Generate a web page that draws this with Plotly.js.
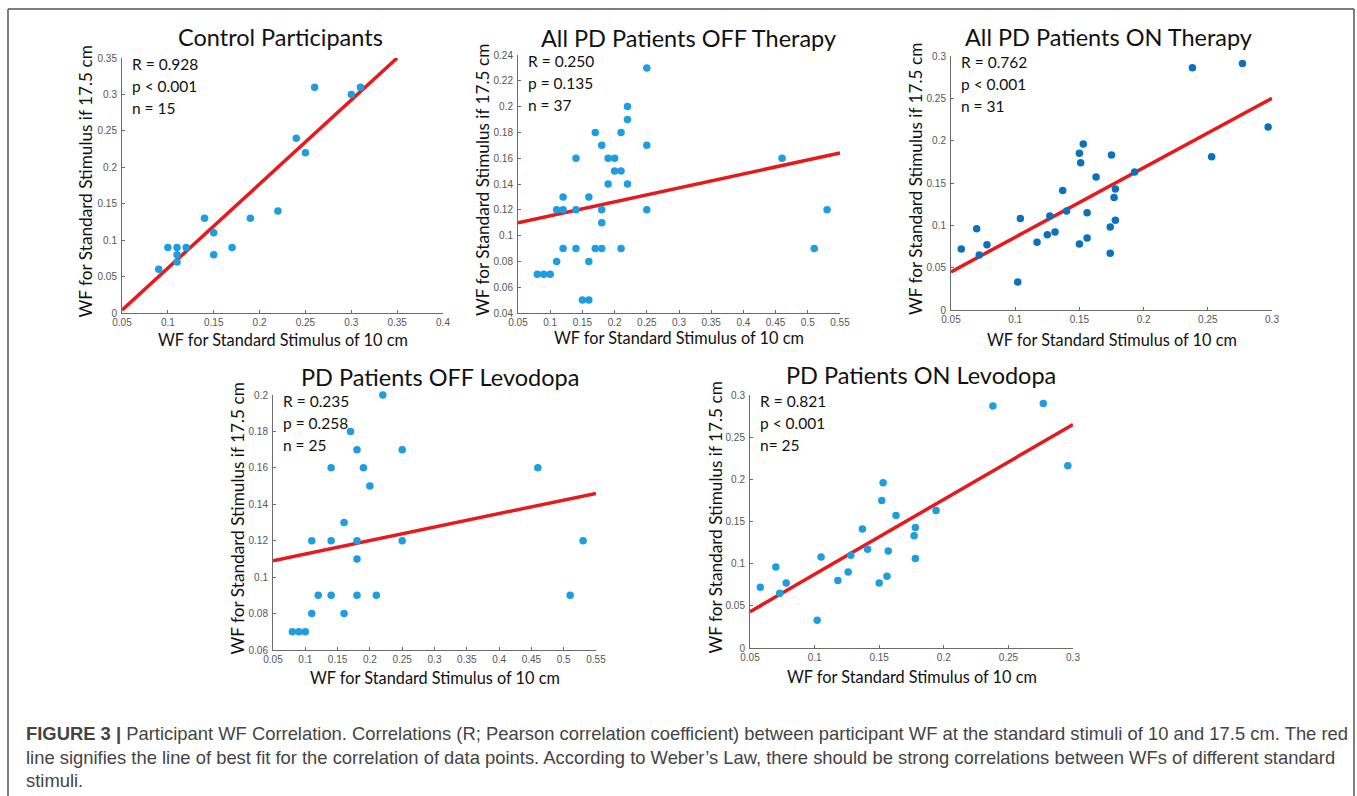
<!DOCTYPE html>
<html>
<head>
<meta charset="utf-8">
<script src="https://cdn.plot.ly/plotly-3.0.1.min.js"></script>
<style>
html,body{margin:0;padding:0;background:#fff;}
#chart{width:1357px;height:796px;}
</style>
</head>
<body>
<div id="chart"></div>
<script>
// ---------------- DATA ----------------
const panelTitles = ["Control Participants", "All PD Patients OFF Therapy", "All PD Patients ON Therapy", "PD Patients OFF Levodopa", "PD Patients ON Levodopa"];
const statTexts = [
  ["R = 0.928", "p < 0.001", "n = 15"],
  ["R = 0.250", "p = 0.135", "n = 37"],
  ["R = 0.762", "p < 0.001", "n = 31"],
  ["R = 0.235", "p = 0.258", "n = 25"],
  ["R = 0.821", "p < 0.001", "n= 25"]
];
const xAxisTitle = "WF for Standard Stimulus of 10 cm";
const yAxisTitle = "WF for Standard Stimulus if 17.5 cm";

// Control Participants
const ctrlX = [0.09, 0.10, 0.11, 0.11, 0.11, 0.12, 0.14, 0.15, 0.15, 0.17, 0.19, 0.22, 0.24, 0.25, 0.26, 0.30, 0.31];
const ctrlY = [0.06, 0.09, 0.09, 0.08, 0.07, 0.09, 0.13, 0.11, 0.08, 0.09, 0.13, 0.14, 0.24, 0.22, 0.31, 0.30, 0.31];
const ctrlFitX = [0.05, 0.35];
const ctrlFitY = [0.004, 0.35];

// All PD OFF Therapy
const offTherX = [0.08, 0.09, 0.10, 0.15, 0.16, 0.11, 0.16, 0.12, 0.14, 0.17, 0.18, 0.21, 0.18, 0.11, 0.12, 0.14, 0.18, 0.25, 0.12, 0.16, 0.19, 0.22, 0.20, 0.21, 0.14, 0.19, 0.20, 0.46, 0.18, 0.25, 0.17, 0.21, 0.22, 0.22, 0.25, 0.51, 0.53];
const offTherY = [0.07, 0.07, 0.07, 0.05, 0.05, 0.08, 0.08, 0.09, 0.09, 0.09, 0.09, 0.09, 0.11, 0.12, 0.12, 0.12, 0.12, 0.12, 0.13, 0.13, 0.14, 0.14, 0.15, 0.15, 0.16, 0.16, 0.16, 0.16, 0.17, 0.17, 0.18, 0.18, 0.19, 0.20, 0.23, 0.09, 0.12];
const offTherFitX = [0.05, 0.55];
const offTherFitY = [0.110, 0.164];

// All PD ON Therapy
const onTherX = [0.058, 0.070, 0.072, 0.078, 0.102, 0.104, 0.117, 0.125, 0.127, 0.131, 0.137, 0.140, 0.150, 0.150, 0.151, 0.153, 0.156, 0.156, 0.163, 0.174, 0.174, 0.175, 0.177, 0.178, 0.178, 0.193, 0.238, 0.253, 0.277, 0.297];
const onTherY = [0.072, 0.096, 0.065, 0.077, 0.033, 0.108, 0.080, 0.089, 0.111, 0.092, 0.141, 0.117, 0.078, 0.185, 0.174, 0.196, 0.115, 0.085, 0.157, 0.098, 0.067, 0.183, 0.133, 0.143, 0.106, 0.163, 0.286, 0.181, 0.291, 0.216];
const onTherFitX = [0.05, 0.30];
const onTherFitY = [0.045, 0.250];

// PD OFF Levodopa
const offLevoX = [0.08, 0.09, 0.10, 0.11, 0.16, 0.12, 0.14, 0.18, 0.21, 0.18, 0.11, 0.14, 0.18, 0.25, 0.16, 0.20, 0.14, 0.19, 0.46, 0.18, 0.25, 0.17, 0.22, 0.51, 0.53];
const offLevoY = [0.07, 0.07, 0.07, 0.08, 0.08, 0.09, 0.09, 0.09, 0.09, 0.11, 0.12, 0.12, 0.12, 0.12, 0.13, 0.15, 0.16, 0.16, 0.16, 0.17, 0.17, 0.18, 0.20, 0.09, 0.12];
const offLevoFitX = [0.05, 0.55];
const offLevoFitY = [0.109, 0.146];

// PD ON Levodopa
const onLevoX = [0.058, 0.070, 0.073, 0.078, 0.102, 0.105, 0.118, 0.126, 0.128, 0.137, 0.141, 0.150, 0.152, 0.153, 0.157, 0.156, 0.163, 0.177, 0.178, 0.178, 0.194, 0.238, 0.277, 0.296];
const onLevoY = [0.072, 0.096, 0.065, 0.077, 0.033, 0.108, 0.080, 0.090, 0.110, 0.141, 0.117, 0.077, 0.175, 0.196, 0.115, 0.085, 0.157, 0.133, 0.143, 0.106, 0.163, 0.287, 0.290, 0.216];
const onLevoFitX = [0.05, 0.30];
const onLevoFitY = [0.043, 0.265];

const captionLines = [
  "<b>FIGURE 3 |</b> Participant WF Correlation. Correlations (R; Pearson correlation coefficient) between participant WF at the standard stimuli of 10 and 17.5 cm. The red",
  "line signifies the line of best fit for the correlation of data points. According to Weber’s Law, there should be strong correlations between WFs of different standard",
  "stimuli."
];

// ---------------- LAYOUT ----------------
const W = 1357, H = 796;
const px = x => x / W;
const py = y => 1 - y / H;

const LIGHT = "#1e9de0", DARK = "#0b71bc", RED = "#e8191c";
const titleFont = "Lato, 'Open Sans', sans-serif";

const panels = [
  {xs: ctrlX, ys: ctrlY, fx: ctrlFitX, fy: ctrlFitY, color: LIGHT,
   box: [122, 443, 58, 313], xr: [0.05, 0.4], yr: [0, 0.35], xd: 0.05, yd: 0.05,
   titleXY: [280, 37], yTitleX: 85, xTitleY: 340},
  {xs: offTherX, ys: offTherY, fx: offTherFitX, fy: offTherFitY, color: LIGHT,
   box: [518, 840, 55, 313], xr: [0.05, 0.55], yr: [0.04, 0.24], xd: 0.05, yd: 0.02,
   titleXY: [688, 38], yTitleX: 483, xTitleY: 337},
  {xs: onTherX, ys: onTherY, fx: onTherFitX, fy: onTherFitY, color: DARK,
   box: [951, 1272, 56, 310], xr: [0.05, 0.3], yr: [0, 0.3], xd: 0.05, yd: 0.05,
   titleXY: [1108, 37], yTitleX: 915, xTitleY: 339},
  {xs: offLevoX, ys: offLevoY, fx: offLevoFitX, fy: offLevoFitY, color: LIGHT,
   box: [273, 596, 395, 650], xr: [0.05, 0.55], yr: [0.06, 0.2], xd: 0.05, yd: 0.02,
   titleXY: [440, 377], yTitleX: 237, xTitleY: 677},
  {xs: onLevoX, ys: onLevoY, fx: onLevoFitX, fy: onLevoFitY, color: LIGHT,
   box: [750, 1073, 395, 648], xr: [0.05, 0.3], yr: [0, 0.3], xd: 0.05, yd: 0.05,
   titleXY: [921, 375], yTitleX: 715, xTitleY: 676}
];

const traces = [];
const layout = {
  width: W, height: H,
  margin: {l: 0, r: 0, t: 0, b: 0},
  paper_bgcolor: "#fff", plot_bgcolor: "rgba(0,0,0,0)",
  showlegend: false,
  annotations: [],
  shapes: []
};

panels.forEach((p, i) => {
  const k = i === 0 ? "" : String(i + 1);
  const xa = "x" + k, ya = "y" + k;
  traces.push({
    type: "scatter", mode: "lines", x: p.fx, y: p.fy, xaxis: xa, yaxis: ya,
    line: {color: RED, width: 3.5}, hoverinfo: "skip", cliponaxis: false
  });
  traces.push({
    type: "scatter", mode: "markers", x: p.xs, y: p.ys, xaxis: xa, yaxis: ya,
    marker: {color: p.color, size: 7.5, line: {width: 0}}, cliponaxis: false
  });
  const axBase = {
    showgrid: false, zeroline: false, showline: true, linecolor: "#6b6b6b", linewidth: 1,
    ticks: "inside", ticklen: 3, tickcolor: "#6b6b6b", tickwidth: 1,
    tickfont: {family: "Arial, 'Liberation Sans', sans-serif", size: 10, color: "#555"},
    fixedrange: true, mirror: false
  };
  layout["xaxis" + k] = Object.assign({}, axBase, {
    domain: [px(p.box[0]), px(p.box[1])], range: p.xr, anchor: ya,
    tick0: p.xr[0], dtick: p.xd
  });
  layout["yaxis" + k] = Object.assign({}, axBase, {
    domain: [py(p.box[3]), py(p.box[2])], range: p.yr, anchor: xa,
    tick0: p.yr[0], dtick: p.yd, ticklabelstandoff: 2
  });

  // panel title
  layout.annotations.push({
    xref: "paper", yref: "paper", x: px(p.titleXY[0]), y: py(p.titleXY[1]),
    text: panelTitles[i], showarrow: false, xanchor: "center", yanchor: "middle",
    font: {family: titleFont, size: 23.5, color: "#111"}
  });
  // stats
  statTexts[i].forEach((s, j) => {
    layout.annotations.push({
      xref: "paper", yref: "paper", x: px(p.box[0] + 8), y: py(p.box[2] + 6 + j * 22),
      text: s, showarrow: false, xanchor: "left", yanchor: "middle",
      font: {family: titleFont, size: 15.5, color: "#111"}
    });
  });
  // x axis title
  layout.annotations.push({
    xref: "paper", yref: "paper", x: px((p.box[0] + p.box[1]) / 2), y: py(p.xTitleY),
    text: xAxisTitle, showarrow: false, xanchor: "center", yanchor: "middle",
    font: {family: titleFont, size: 16.3, color: "#111"}
  });
  // y axis title
  layout.annotations.push({
    xref: "paper", yref: "paper", x: px(p.yTitleX), y: py((p.box[2] + p.box[3]) / 2 - 4),
    text: yAxisTitle, showarrow: false, xanchor: "center", yanchor: "middle", textangle: -90,
    font: {family: titleFont, size: 17.2, color: "#111"}
  });
});

// caption
const capY = [733, 757, 780];
captionLines.forEach((t, i) => {
  layout.annotations.push({
    xref: "paper", yref: "paper", x: px(24), y: py(capY[i]),
    text: t, showarrow: false, xanchor: "left", yanchor: "middle", align: "left",
    font: {family: "'Liberation Sans', Arial, sans-serif", size: 18.4, color: "#444"}
  });
});

// figure frame (left, top, right)
const frameCol = "#555";
layout.shapes.push(
  {type: "line", xref: "paper", yref: "paper", x0: px(8), x1: px(8), y0: py(9), y1: py(800), line: {color: frameCol, width: 1.5}},
  {type: "line", xref: "paper", yref: "paper", x0: px(8), x1: px(1354), y0: py(9), y1: py(9), line: {color: frameCol, width: 1.5}},
  {type: "line", xref: "paper", yref: "paper", x0: px(1354), x1: px(1354), y0: py(9), y1: py(800), line: {color: frameCol, width: 1.5}}
);

Plotly.newPlot("chart", traces, layout, {displayModeBar: false, staticPlot: true});
</script>
</body>
</html>
